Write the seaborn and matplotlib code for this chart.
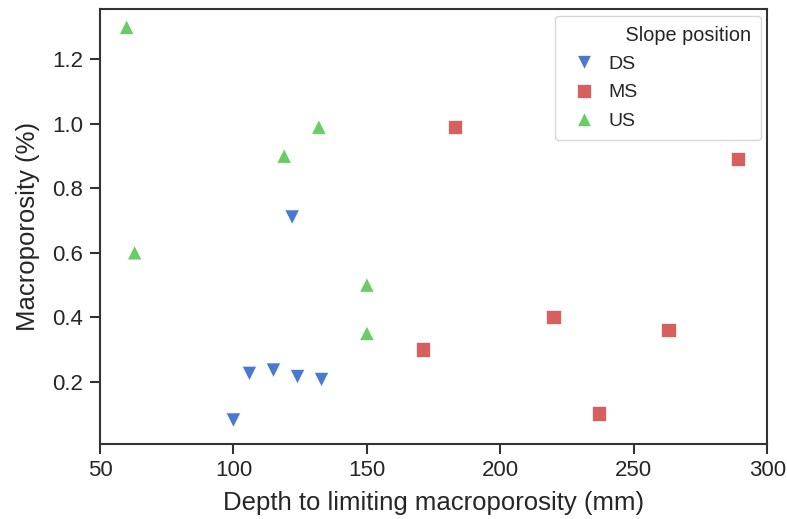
import matplotlib
matplotlib.use("Agg")
import matplotlib.pyplot as plt
import seaborn as sns
import pandas as pd
from matplotlib.lines import Line2D

depth_ds = [122, 100, 106, 115, 124, 133]
macro_ds = [0.71, 0.08, 0.225, 0.235, 0.215, 0.206]
depth_ms = [183, 289, 220, 263, 171, 237]
macro_ms = [0.99, 0.89, 0.40, 0.36, 0.30, 0.10]
depth_us = [60, 63, 119, 132, 150, 150]
macro_us = [1.30, 0.60, 0.90, 0.99, 0.50, 0.35]
positions = ["DS", "MS", "US"]

df = pd.DataFrame({
    "Depth": depth_ds + depth_ms + depth_us,
    "Macro": macro_ds + macro_ms + macro_us,
    "Slope position": ["DS"] * len(depth_ds) + ["MS"] * len(depth_ms) + ["US"] * len(depth_us),
})

sns.set_theme(style="ticks")
plt.rcParams["font.family"] = ["Liberation Sans", "DejaVu Sans"]
muted = sns.color_palette("muted")
palette = {"DS": muted[0], "MS": muted[3], "US": muted[2]}
markers = {"DS": "v", "MS": "s", "US": "^"}

fig, ax = plt.subplots(figsize=(7.87, 5.19), dpi=100)
sns.scatterplot(data=df, x="Depth", y="Macro", hue="Slope position", style="Slope position",
                hue_order=positions, style_order=positions, palette=palette, markers=markers,
                s=110, edgecolor="white", linewidth=0.5, ax=ax)

ax.set_xlim(50, 300)
ax.set_ylim(0.007, 1.355)
ax.set_xticks([50, 100, 150, 200, 250, 300])
ax.set_yticks([0.2, 0.4, 0.6, 0.8, 1.0, 1.2])
ax.set_xlabel("Depth to limiting macroporosity (mm)", fontsize=18.5, labelpad=7)
ax.set_ylabel("Macroporosity (%)", fontsize=18.5, labelpad=9)
ax.tick_params(labelsize=16, length=7, width=1.5, pad=5, colors="#333333", labelcolor="#262626")
for sp in ax.spines.values():
    sp.set_linewidth(1.5)
    sp.set_color("#333333")

handles, labels = ax.get_legend_handles_labels()
title_handle = Line2D([], [], linestyle="none", marker=None)
leg = ax.legend([title_handle] + handles, ["Slope position"] + labels, fontsize=14,
                loc="upper right", frameon=True, labelspacing=0.55, borderpad=0.5,
                handletextpad=0.25, borderaxespad=0.35)
leg.get_texts()[0].set_fontsize(14.3)
leg.get_texts()[0].set_text("   Slope position")

fig.subplots_adjust(left=0.127, right=0.975, top=0.982, bottom=0.145)
fig.savefig("out.png", dpi=100)
